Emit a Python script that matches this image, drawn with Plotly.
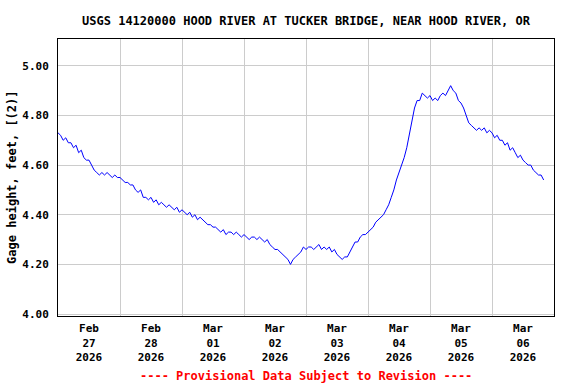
import pandas as pd
import plotly.graph_objects as go

title_text = "USGS 14120000 HOOD RIVER AT TUCKER BRIDGE, NEAR HOOD RIVER, OR"
y_title = "Gage height, feet, [(2)]"
footer_text = "---- Provisional Data Subject to Revision ----"

start_time = "2026-02-27 00:00"
# hourly gage height readings (feet)
gage_height = [
    4.73, 4.72, 4.70, 4.71, 4.69, 4.69, 4.67, 4.68, 4.65, 4.66,
    4.63, 4.62, 4.62, 4.60, 4.58, 4.57, 4.56, 4.57, 4.56, 4.57,
    4.56, 4.55, 4.56, 4.55, 4.55, 4.54, 4.53, 4.53, 4.52, 4.52,
    4.50, 4.49, 4.50, 4.47, 4.47, 4.46, 4.47, 4.45, 4.46, 4.44,
    4.45, 4.44, 4.43, 4.44, 4.43, 4.42, 4.43, 4.41, 4.42, 4.41,
    4.40, 4.41, 4.39, 4.40, 4.38, 4.39, 4.38, 4.37, 4.36, 4.36,
    4.35, 4.35, 4.34, 4.33, 4.34, 4.32, 4.33, 4.33, 4.32, 4.33,
    4.32, 4.31, 4.32, 4.31, 4.30, 4.31, 4.31, 4.30, 4.31, 4.30,
    4.29, 4.30, 4.28, 4.27, 4.26, 4.26, 4.25, 4.24, 4.23, 4.22,
    4.20, 4.22, 4.23, 4.24, 4.25, 4.27, 4.26, 4.27, 4.27, 4.26,
    4.27, 4.28, 4.26, 4.27, 4.26, 4.27, 4.25, 4.26, 4.24, 4.23,
    4.22, 4.23, 4.23, 4.25, 4.27, 4.29, 4.29, 4.31, 4.32, 4.32,
    4.33, 4.34, 4.35, 4.37, 4.38, 4.39, 4.40, 4.42, 4.44, 4.47,
    4.50, 4.54, 4.57, 4.60, 4.63, 4.67, 4.72, 4.78, 4.83, 4.86,
    4.86, 4.89, 4.88, 4.87, 4.88, 4.86, 4.87, 4.86, 4.88, 4.89,
    4.88, 4.90, 4.92, 4.90, 4.89, 4.86, 4.85, 4.83, 4.80, 4.77,
    4.76, 4.75, 4.74, 4.75, 4.74, 4.75, 4.73, 4.74, 4.73, 4.71,
    4.72, 4.70, 4.70, 4.68, 4.69, 4.66, 4.67, 4.65, 4.63, 4.64,
    4.62, 4.61, 4.60, 4.60, 4.58, 4.57, 4.56, 4.56, 4.54,
]
times = pd.date_range(start_time, periods=len(gage_height), freq="h")

y_ticks = [4.00, 4.20, 4.40, 4.60, 4.80, 5.00]

FONT = "DejaVu Sans Mono"

fig = go.Figure()
fig.add_trace(go.Scatter(
    x=times, y=gage_height, mode="lines",
    line=dict(color="#0000ff", width=1),
    showlegend=False, hoverinfo="skip",
))

fig.update_layout(
    width=576, height=384, autosize=False,
    margin=dict(l=58, r=22, t=39, b=68, autoexpand=False),
    paper_bgcolor="white", plot_bgcolor="white",
    font=dict(family=FONT, size=11, color="black", weight="bold"),
    title=dict(text=title_text, xref="paper", x=0.5, xanchor="center",
               y=0.945, yanchor="middle",
               font=dict(family=FONT, size=12, color="black", weight="bold")),
)

fig.update_xaxes(
    type="date", automargin=False,
    range=["2026-02-27 00:00", "2026-03-07 00:00"],
    dtick=86400000, tick0="2026-02-27 00:00",
    ticklabelmode="period", tickformat="%b<br>%d<br>%Y",
    showgrid=True, gridcolor="#cccccc", gridwidth=1,
    showline=True, linecolor="black", linewidth=1, mirror=True,
    ticks="", ticklabelstandoff=2,
    tickfont=dict(family=FONT, size=11, color="black", weight="bold"),
)
fig.update_yaxes(
    range=[3.992, 5.108], automargin=False,
    tickvals=y_ticks, tickformat=".2f",
    showgrid=True, gridcolor="#cccccc", gridwidth=1,
    showline=True, linecolor="black", linewidth=1, mirror=True,
    ticks="", ticklabelstandoff=6, zeroline=False,
    tickfont=dict(family=FONT, size=11, color="black", weight="bold"),
)

fig.add_annotation(
    text=y_title, xref="paper", yref="paper", x=-0.094, y=0.5,
    xanchor="center", yanchor="middle", showarrow=False, textangle=-90,
    font=dict(family=FONT, size=12, color="black", weight="bold"),
)
fig.add_annotation(
    text=footer_text, xref="paper", yref="paper", x=0.5, y=-0.215,
    xanchor="center", yanchor="middle", showarrow=False,
    font=dict(family=FONT, size=12, color="#ff0000", weight="bold"),
)

fig.write_html(
    "out.html",
    config={"displayModeBar": False, "staticPlot": True},
    post_script="document.body.style.margin='0';document.body.style.overflow='hidden';",
)
